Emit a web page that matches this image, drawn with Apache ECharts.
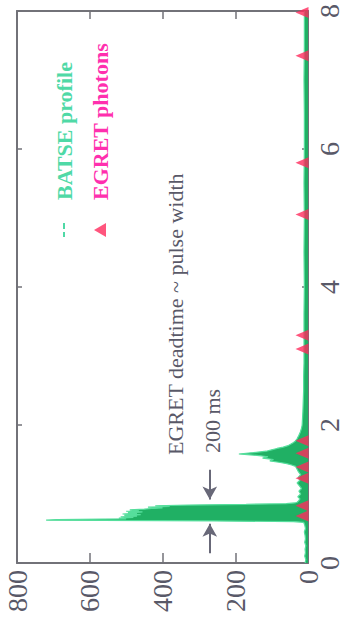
<!DOCTYPE html>
<html>
<head>
<meta charset="utf-8">
<script src="https://cdn.jsdelivr.net/npm/echarts@6/dist/echarts.min.js"></script>
<style>
  html, body { margin: 0; padding: 0; background: #ffffff; overflow: hidden; }
  #frame { position: absolute; left: 0; top: 0; width: 345px; height: 626px; overflow: hidden; }
  /* the figure is laid out landscape and turned a quarter turn counter-clockwise */
  #chart { position: absolute; left: 0; top: 0; width: 626px; height: 345px;
           transform-origin: 0 0; transform: translate(0, 626px) rotate(-90deg); }
</style>
</head>
<body>
<div id="frame"><div id="chart"></div></div>
<script>
// BATSE light curve: time (s) and counts per bin
const profileTime = [
  0.00, 0.05, 0.10, 0.15, 0.20, 0.25, 0.30, 0.35, 0.40, 0.45, 0.50, 0.55,
  0.59, 0.60, 0.61, 0.62, 0.63, 0.64, 0.65, 0.66, 0.67, 0.68, 0.69, 0.70,
  0.71, 0.72, 0.73, 0.74, 0.75, 0.76, 0.77, 0.78, 0.79, 0.80, 0.81, 0.82,
  0.83, 0.84, 0.85, 0.86, 0.87, 0.88, 0.90, 0.93, 0.96, 1.00, 1.04, 1.08,
  1.12, 1.16, 1.20, 1.24, 1.28, 1.32, 1.36, 1.40, 1.42, 1.44, 1.46, 1.48,
  1.50, 1.52, 1.54, 1.56, 1.58, 1.60, 1.62, 1.64, 1.66, 1.68, 1.70, 1.72,
  1.74, 1.76, 1.80, 1.85, 1.90, 1.95, 2.00, 2.10, 2.20, 2.35, 2.50, 2.70,
  2.90, 3.20, 3.60, 4.00, 4.50, 5.00, 5.50, 6.00, 6.50, 7.00, 7.50, 8.00
];
const profileCounts = [
  8, 6, 9, 7, 8, 6, 9, 7, 8, 10, 7, 9,
  12, 40, 260, 720, 690, 500, 520, 480, 515, 470, 505, 460,
  510, 470, 495, 455, 500, 465, 490, 450, 430, 400, 440, 380,
  420, 330, 170, 60, 36, 30, 26, 22, 28, 20, 25, 18,
  24, 30, 22, 27, 20, 26, 30, 34, 45, 58, 80, 105,
  95, 125, 110, 140, 190, 150, 115, 100, 85, 68, 55, 48,
  42, 36, 30, 25, 21, 18, 16, 15, 14, 13, 12, 12,
  11, 11, 11, 10, 11, 10, 11, 10, 10, 11, 10, 10
];

// EGRET photon arrival times (s)
const photonTimes = [0.68, 0.83, 1.23, 1.39, 1.59, 1.77, 3.10, 3.30, 5.05, 5.80, 7.35, 7.98];

// axis ranges and ticks
const timeRange = [0, 8], timeStep = 2;
const countRange = [0, 800], countStep = 200;

// deadtime arrows: start and end times, drawn at one count level
const arrowIn = [0.14, 0.57];
const arrowOut = [1.35, 0.92];
const arrowLevel = 270;

const serif = "'Liberation Serif', 'DejaVu Serif', serif";
const inkGrey = '#595968';
const frameGrey = '#727278';

const chart = echarts.init(document.getElementById('chart'), null,
  { renderer: 'svg', width: 626, height: 345 });

const frameAxis = {
  type: 'value',
  axisLine: { show: true, onZero: false, lineStyle: { color: frameGrey, width: 2 } },
  splitLine: { show: false }
};

chart.setOption({
  animation: false,
  textStyle: { fontFamily: serif },
  grid: { left: 63, right: 11, top: 17, bottom: 37 },
  xAxis: [
    Object.assign({}, frameAxis, {
      min: timeRange[0], max: timeRange[1], interval: timeStep, position: 'bottom',
      axisTick: { inside: true, length: 6, lineStyle: { color: frameGrey, width: 1.5 } },
      axisLabel: { fontSize: 28, color: inkGrey, margin: 7, fontFamily: serif }
    }),
    Object.assign({}, frameAxis, {
      min: timeRange[0], max: timeRange[1], interval: timeStep, position: 'top',
      axisTick: { inside: true, length: 5, lineStyle: { color: frameGrey, width: 1.5 } },
      axisLabel: { show: false }
    })
  ],
  yAxis: [
    Object.assign({}, frameAxis, {
      min: countRange[0], max: countRange[1], interval: countStep, position: 'left',
      axisTick: { inside: true, length: 10, lineStyle: { color: frameGrey, width: 1.5 } },
      axisLabel: { fontSize: 28, color: inkGrey, margin: 7, fontFamily: serif }
    }),
    Object.assign({}, frameAxis, {
      min: countRange[0], max: countRange[1], interval: countStep, position: 'right',
      axisTick: { inside: true, length: 8, lineStyle: { color: frameGrey, width: 1.5 } },
      axisLabel: { show: false }
    })
  ],
  legend: {
    orient: 'vertical', left: 384, top: 48, itemGap: 14,
    itemWidth: 14, itemHeight: 12,
    textStyle: { fontSize: 22, fontWeight: 'bold', fontFamily: serif, padding: [0, 0, 0, 18] },
    data: [
      { name: 'BATSE profile', icon: 'path://M0,5 L5,5 L5,7 L0,7 Z M8,5 L14,5 L14,7 L8,7 Z',
        itemStyle: { color: '#4fd9a6' }, textStyle: { color: '#4fd9a6' } },
      { name: 'EGRET photons', icon: 'triangle', itemStyle: { color: '#ff2a5c' },
        textStyle: { color: '#ff2fae' } }
    ]
  },
  series: [
    {
      name: 'BATSE profile',
      type: 'line',
      xAxisIndex: 0, yAxisIndex: 0,
      data: profileTime.map((t, i) => [t, profileCounts[i]]),
      showSymbol: false,
      sampling: 'none',
      lineStyle: { color: '#55de9c', width: 1.2 },
      itemStyle: { color: '#4fd9a6' },
      areaStyle: { color: '#20b064', opacity: 1 },
      z: 2,
      markLine: {
        silent: true,
        symbol: ['none', 'arrow'],
        symbolSize: [11, 13],
        label: { show: false },
        lineStyle: { color: '#686878', width: 2, type: 'solid' },
        data: [
          [{ coord: [arrowIn[0], arrowLevel] }, { coord: [arrowIn[1], arrowLevel] }],
          [{ coord: [arrowOut[0], arrowLevel] }, { coord: [arrowOut[1], arrowLevel] }]
        ]
      }
    },
    {
      name: 'EGRET photons',
      type: 'scatter',
      xAxisIndex: 0, yAxisIndex: 0,
      data: photonTimes.map(t => [t, 0]),
      symbol: 'triangle',
      symbolSize: [11, 13],
      symbolOffset: [0, -6],
      itemStyle: { color: '#ff2a5c' },
      z: 3
    }
  ],
  graphic: [
    { type: 'text', x: 171, y: 175,
      style: { text: 'EGRET deadtime ~ pulse width', font: '22px ' + serif,
               fill: inkGrey, align: 'left', verticalAlign: 'middle' } },
    { type: 'text', x: 173, y: 212,
      style: { text: '200 ms', font: '22px ' + serif,
               fill: inkGrey, align: 'left', verticalAlign: 'middle' } }
  ]
});
</script>
</body>
</html>
